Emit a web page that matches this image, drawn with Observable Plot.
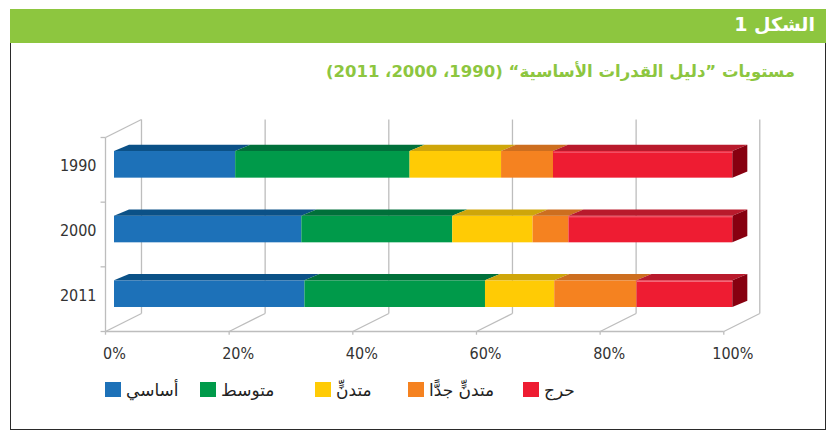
<!DOCTYPE html>
<html><head><meta charset="utf-8">
<script src="https://cdn.jsdelivr.net/npm/d3@7"></script>
<script src="https://cdn.jsdelivr.net/npm/@observablehq/plot@0.6"></script>
<style>
body{margin:0;background:#fff}
#wrap{position:relative;width:835px;height:433px;overflow:hidden;font-family:"DejaVu Sans",sans-serif;background:#fff}
#head{position:absolute;left:10px;top:9px;width:816px;height:34px;background:#8dc63f}
#frame{position:absolute;left:10px;top:43px;width:814px;height:386px;border-left:1.5px solid #2a2a2a;border-right:1.5px solid #2a2a2a;border-bottom:1.5px solid #2a2a2a}
#title{position:absolute;right:20px;top:13px;color:#fff;font-weight:bold;font-size:19px;direction:rtl;white-space:nowrap}
#subtitle{position:absolute;right:40px;top:62px;color:#8dc63f;font-weight:bold;font-size:16.5px;direction:rtl;white-space:nowrap}
#chart{position:absolute;left:0;top:95px}
#chart svg text{font-stretch:condensed}
.sw{position:absolute;top:382px;width:16px;height:15px}
.lt{position:absolute;top:380px;font-size:17px;color:#222;white-space:nowrap;direction:rtl}
</style></head>
<body><div id="wrap">
<div id="head"></div><div id="frame"></div>
<div id="title"></div><div id="subtitle"></div>
<div id="chart"></div>
<div id="legend"></div>
</div>
<script>
const titleText = "الشكل 1";
const subtitleText = "مستويات ”دليل القدرات الأساسية“ (1990، 2000، 2011)";
const years = ["1990", "2000", "2011"];
const categories = ["أساسي", "متوسط", "متدنٍّ", "متدنٍّ جدًّا", "حرج"];
const basic    = [19.6, 30.3, 30.8];
const medium   = [28.2, 24.4, 29.2];
const low      = [14.8, 13.0, 11.2];
const veryLow  = [8.4, 5.8, 13.3];
const critical = [29.0, 26.5, 15.5];
const xTicks = [0, 20, 40, 60, 80, 100];

const frontColors = ["#1d71b8", "#009a4a", "#ffcb05", "#f58220", "#ee1c32"];
const topColors   = ["#0b5187", "#00703a", "#cfa60a", "#cd6e1f", "#b91a2c"];
const sideColor = "#870010";
const wallColor = "#bdbdbd";

document.getElementById("title").textContent = titleText;
document.getElementById("subtitle").textContent = subtitleText;

const series = [basic, medium, low, veryLow, critical];
const segs = [];
years.forEach((yr, i) => {
  let acc = 0;
  series.forEach((s, k) => {
    segs.push({i, k, x1: acc, x2: acc + s[i]});
    acc += s[i];
  });
});

// bar geometry (data units)
const H = 0.206;      // half front height
const TX = 2.43;      // top depth in x units
const TY = 0.097;     // top depth in y units
// wall depth
const WX = 5.82, WY = 0.278;
const BDX = 9, BDY = -5; // bar pixel offset into the box

const topRows = segs.flatMap((d, j) => [
  {id: j, y: d.i + 0.5 - H, x1: d.x1, x2: d.x2, fill: topColors[d.k]},
  {id: j, y: d.i + 0.5 - H - TY, x1: d.x1 + TX, x2: d.x2 + TX, fill: topColors[d.k]}
]);
const lastSegs = segs.filter(d => d.k === series.length - 1);
const sideRows = lastSegs.flatMap(d => [
  {id: d.i, x: d.x2, y1: d.i + 0.5 - H, y2: d.i + 0.5 + H},
  {id: d.i, x: d.x2 + TX, y1: d.i + 0.5 - H - TY, y2: d.i + 0.5 + H - TY}
]);

const n = years.length;
const walls = [
  {x1: 0, y1: 0, x2: 0, y2: n},
  {x1: 0, y1: n, x2: 100, y2: n},
  {x1: 0, y1: 0, x2: WX, y2: -WY},
  ...xTicks.map(t => ({x1: t + WX, y1: -WY, x2: t + WX, y2: n - WY})),
  ...xTicks.map(t => ({x1: t, y1: n, x2: t + WX, y2: n - WY})),
  ...xTicks.map(t => ({x1: t, y1: n, x2: t, y2: n + 0.05})),
  ...d3.range(0, n + 1).map(r => ({x1: -0.8, y1: r, x2: 0, y2: r}))
];

const numFont = "'Liberation Sans Narrow','Arial Narrow','DejaVu Sans Condensed','Roboto Condensed','Liberation Sans',sans-serif";

const chart = Plot.plot({
  width: 835,
  height: 280,
  marginLeft: 105,
  marginRight: 111.7,
  marginTop: 42,
  marginBottom: 44,
  x: {domain: [0, 100]},
  y: {domain: [0, n], range: [42, 236], axis: null},
  color: {type: "identity"},
  style: {fontFamily: numFont, fontSize: "16px", color: "#333", background: "transparent"},
  marks: [
    Plot.link(walls, {x1: "x1", y1: "y1", x2: "x2", y2: "y2", stroke: wallColor, strokeWidth: 1.3}),
    Plot.rect(segs, {x1: "x1", x2: "x2", y1: d => d.i + 0.5 - H, y2: d => d.i + 0.5 + H, fill: d => frontColors[d.k], dx: BDX, dy: BDY}),
    Plot.areaX(topRows, {x1: "x1", x2: "x2", y: "y", z: "id", fill: "fill", curve: "linear", dx: BDX, dy: BDY}),
    Plot.areaY(sideRows, {x: "x", y1: "y1", y2: "y2", z: "id", fill: sideColor, curve: "linear", dx: BDX, dy: BDY}),
    Plot.link(lastSegs, {x1: "x1", x2: "x2", y1: d => d.i + 0.5 - H + 0.01, y2: d => d.i + 0.5 - H + 0.01, stroke: "#f36a7b", strokeWidth: 1, dx: BDX, dy: BDY}),
    Plot.text(years, {x: 0, y: (d, i) => i + 0.5, text: d => d, textAnchor: "end", dx: -9, dy: -3.5, fontSize: 16, fill: "#333"}),
    Plot.axisX(xTicks, {tickSize: 0, tickPadding: 16, tickFormat: d => d + "%", dx: 9, fontSize: 16, fill: "#333"})
  ]
});
document.getElementById("chart").appendChild(chart);

const legendLefts = [105, 200, 315, 408, 523];
const legend = document.getElementById("legend");
categories.forEach((c, k) => {
  const sw = document.createElement("div");
  sw.className = "sw";
  sw.style.left = legendLefts[k] + "px";
  sw.style.background = frontColors[k];
  legend.appendChild(sw);
  const t = document.createElement("div");
  t.className = "lt";
  t.style.left = (legendLefts[k] + 21) + "px";
  t.textContent = c;
  legend.appendChild(t);
});
</script>
</body></html>
